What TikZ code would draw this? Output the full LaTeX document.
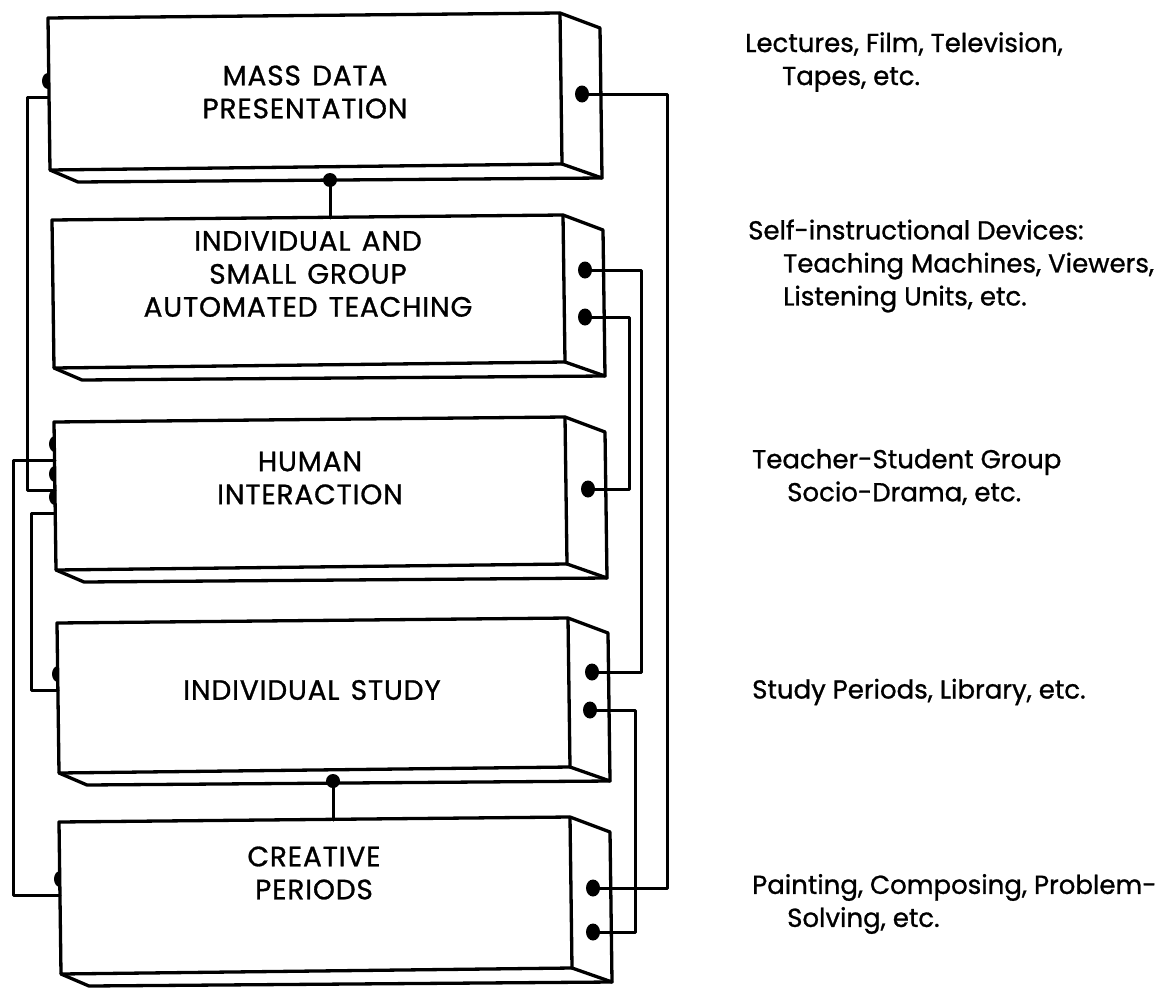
\documentclass[tikz,border=0pt]{standalone}
\usepackage{fontspec}
\setmainfont{Poppins}[FakeBold=1.0]
\newcommand{\solidbox}[4]{% #1=x left, #2=y top, #3=x right, #4=height
  \draw[boxline] (#1,#2) -- (#3,#2-5) -- (#3+2,#2+#4-6) -- (#1+2,#2+#4) -- cycle;
  \draw[boxline] (#3,#2-5) -- (#3+40,#2+10) -- (#3+42,#2+#4+8) -- (#3+2,#2+#4-6);
  \draw[boxline] (#1+2,#2+#4) -- (#1+30,#2+#4+12) -- (#3+42,#2+#4+8);
}
\newcommand{\leftdot}[1]{\fill #1 ++(0,-8) arc[start angle=90,end angle=270,x radius=6,y radius=8] -- cycle;}
\newcommand{\sidedot}[1]{\fill #1 ellipse[x radius=7,y radius=8.5];}
\newcommand{\botdot}[1]{\fill #1 circle[radius=7];}
\begin{document}
\begin{tikzpicture}[x=1pt,y=-1pt,line join=round,line cap=round,
  boxline/.style={line width=3.3pt},
  wire/.style={line width=3pt},
  boxtext/.style={font=\fontsize{28}{33}\selectfont\addfontfeature{LetterSpace=3},align=center,inner sep=0pt},
  sidetext/.style={font=\fontsize{26}{33}\selectfont,align=left,anchor=west,inner sep=0pt}]
\useasboundingbox (0,0) rectangle (1167,990);

% boxes
\solidbox{48}{18}{560}{152}
\solidbox{52}{220}{563}{148}
\solidbox{54}{422}{565}{148}
\solidbox{57}{623}{568}{150}
\solidbox{59}{822}{570}{152}

% box labels
\node[boxtext] (t1) at (305,92) {MASS\hspace{0.4em}DATA\\PRESENTATION};
\node[boxtext] (t2) at (308,274) {INDIVIDUAL\hspace{0.4em}AND\\SMALL\hspace{0.4em}GROUP\\AUTOMATED\hspace{0.4em}TEACHING};
\node[boxtext] (t3) at (310,478) {HUMAN\\INTERACTION};
\node[boxtext] (t4) at (312,690) {INDIVIDUAL\hspace{0.4em}STUDY};
\node[boxtext] (t5) at (314,873) {CREATIVE\\PERIODS};

% connection points
\coordinate (b1L) at (48,97);
\coordinate (b3La) at (55,460);
\coordinate (b3Lb) at (55,490);
\coordinate (b3Lc) at (55,513);
\coordinate (b4L) at (58,690);
\coordinate (b5L) at (60,895);
\coordinate (b1R) at (582,94);
\coordinate (b2Ra) at (585,270);
\coordinate (b2Rb) at (585,317);
\coordinate (b3R) at (588,489);
\coordinate (b4Ra) at (592,672);
\coordinate (b4Rb) at (590,710);
\coordinate (b5Ra) at (593,888);
\coordinate (b5Rb) at (593,932);
\coordinate (b1B) at (330,180);
\coordinate (b2T) at (330,218);
\coordinate (b4B) at (333,781);
\coordinate (b5T) at (333,820);
% wire corners
\coordinate (l1) at (27,97);
\coordinate (l2) at (13,460);
\coordinate (l3) at (31,513);
\coordinate (r1) at (667,94);
\coordinate (r2) at (641,270);
\coordinate (r3) at (629,317);
\coordinate (r4) at (635,710);

% wires
\draw[wire] (b1L) -- (l1) |- (b3Lb);
\draw[wire] (b3La) -- (l2) |- (b5L);
\draw[wire] (b3Lc) -- (l3) |- (b4L);
\draw[wire] (b1R) -- (r1) |- (b5Ra);
\draw[wire] (b2Ra) -- (r2) |- (b4Ra);
\draw[wire] (b2Rb) -- (r3) |- (b3R);
\draw[wire] (b4Rb) -- (r4) |- (b5Rb);
\draw[wire] (b1B) -- (b2T);
\draw[wire] (b4B) -- (b5T);

% dots
\leftdot{(b1L)} \leftdot{(b3La)} \leftdot{(b3Lb)} \leftdot{(b3Lc)} \leftdot{(b4L)} \leftdot{(b5L)}
\sidedot{(b1R)} \sidedot{(b2Ra)} \sidedot{(b2Rb)} \sidedot{(b3R)}
\sidedot{(b4Ra)} \sidedot{(b4Rb)} \sidedot{(b5Ra)} \sidedot{(b5Rb)}
\botdot{(b1B)} \botdot{(b4B)}

% side descriptions
\node[sidetext] (d1) at (745,62) {Lectures, Film, Television,\\\hspace*{37pt}Tapes, etc.};
\node[sidetext] (d2) at (748,266) {Self-instructional Devices:\\\hspace*{35pt}Teaching Machines, Viewers,\\\hspace*{35pt}Listening Units, etc.};
\node[sidetext] (d3) at (752,477) {Teacher-Student Group\\\hspace*{35pt}Socio-Drama, etc.};
\node[sidetext] (d4) at (752,692) {Study Periods, Library, etc.};
\node[sidetext] (d5) at (752,904) {Painting, Composing, Problem-\\\hspace*{35pt}Solving, etc.};
\end{tikzpicture}
\end{document}
